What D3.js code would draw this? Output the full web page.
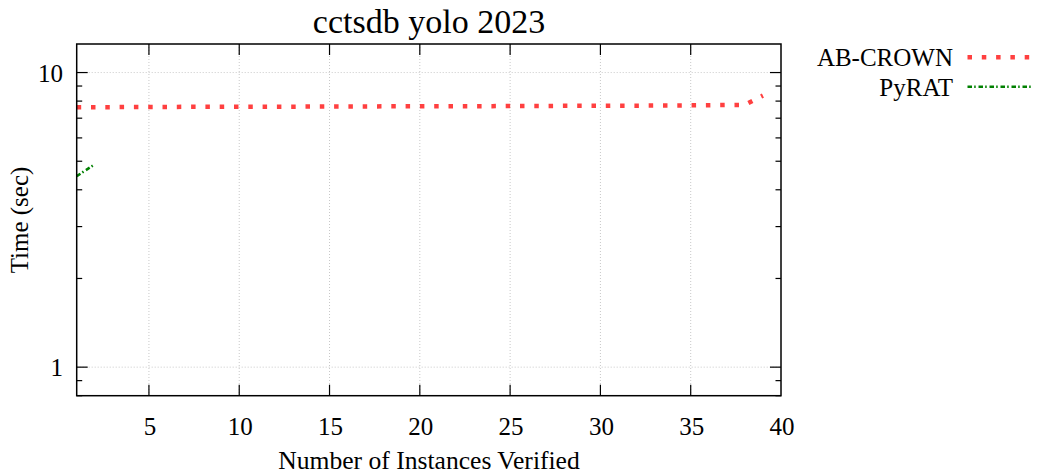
<!DOCTYPE html>
<html><head><meta charset="utf-8">
<script src="https://cdn.jsdelivr.net/npm/d3@7"></script>
<style>body{margin:0;background:#fff}svg{display:block}text{font-family:"Liberation Serif","Times New Roman",serif;fill:#000}</style>
</head><body>
<script>
const title = "cctsdb yolo 2023";
const xLabel = "Number of Instances Verified";
const yLabel = "Time (sec)";
const xTicks = [5,10,15,20,25,30,35,40];
const yTicks = [1,10];
const seriesNames = ["AB-CROWN","PyRAT"];
const abcrownX = d3.range(1,40);
const abcrownY = [7.62,7.63,7.63,7.64,7.64,7.64,7.65,7.65,7.65,7.66,7.66,7.66,7.66,7.67,7.67,7.67,7.67,7.68,7.68,7.68,7.68,7.69,7.69,7.69,7.70,7.70,7.70,7.71,7.71,7.71,7.72,7.72,7.73,7.73,7.74,7.75,7.76,7.77,8.35];
const pyratX = [1,2];
const pyratY = [4.45,4.88];

const W=1037,H=475;
const L=76.7,R=781,T=44,B=395.7;
const svg=d3.select("body").append("svg").attr("width",W).attr("height",H);
const x=d3.scaleLinear().domain([1,40]).range([L,R]);
const y=d3.scaleLog().domain([0.8,12.5]).range([B,T]);

// grid
const g=svg.append("g");
g.selectAll(".gx").data(xTicks.filter(v=>v<40)).enter().append("line")
 .attr("x1",d=>x(d)).attr("x2",d=>x(d)).attr("y1",T).attr("y2",B)
 .attr("stroke","#c8c8c8").attr("stroke-width",1).attr("stroke-dasharray","1,2");
g.selectAll(".gy").data(yTicks).enter().append("line")
 .attr("y1",d=>y(d)).attr("y2",d=>y(d)).attr("x1",L).attr("x2",R)
 .attr("stroke","#c8c8c8").attr("stroke-width",1).attr("stroke-dasharray","1,2");

// ticks
const minorY=[0.8,0.9,2,3,4,5,6,7,8,9];
const tk=svg.append("g").attr("stroke","#000").attr("stroke-width",1.2);
xTicks.filter(v=>v<40).forEach(v=>{
  tk.append("line").attr("x1",x(v)).attr("x2",x(v)).attr("y1",B).attr("y2",B-11);
  tk.append("line").attr("x1",x(v)).attr("x2",x(v)).attr("y1",T).attr("y2",T+11);
});
yTicks.forEach(v=>{
  tk.append("line").attr("x1",L).attr("x2",L+11).attr("y1",y(v)).attr("y2",y(v));
  tk.append("line").attr("x1",R).attr("x2",R-11).attr("y1",y(v)).attr("y2",y(v));
});
minorY.forEach(v=>{
  tk.append("line").attr("x1",L).attr("x2",L+5.5).attr("y1",y(v)).attr("y2",y(v));
  tk.append("line").attr("x1",R).attr("x2",R-5.5).attr("y1",y(v)).attr("y2",y(v));
});

// tick labels
svg.selectAll(".xl").data(xTicks).enter().append("text")
 .attr("x",d=>x(d)+1).attr("y",435).attr("text-anchor","middle").attr("font-size",25).text(d=>d);
svg.selectAll(".yl").data(yTicks).enter().append("text")
 .attr("x",63).attr("y",d=>y(d)+9).attr("text-anchor","end").attr("font-size",25).text(d=>d);

// clip
svg.append("clipPath").attr("id","clip").append("rect").attr("x",L).attr("y",T).attr("width",R-L).attr("height",B-T);
const line=d3.line().x(d=>x(d[0])).y(d=>y(d[1]));
const pg=svg.append("g").attr("clip-path","url(#clip)");
pg.append("path").datum(abcrownX.map((v,i)=>[v,abcrownY[i]])).attr("d",line)
 .attr("fill","none").attr("stroke","#ff4040").attr("stroke-width",4.5).attr("stroke-dasharray","4.5,9.8");
pg.append("path").datum(pyratX.map((v,i)=>[v,pyratY[i]])).attr("d",line)
 .attr("fill","none").attr("stroke","#008000").attr("stroke-width",2.5).attr("stroke-dasharray","4.5,2.2,1.5,2.8");

// border
svg.append("rect").attr("x",L).attr("y",T).attr("width",R-L).attr("height",B-T)
 .attr("fill","none").attr("stroke","#000").attr("stroke-width",1.5);

// title & labels
svg.append("text").attr("x",429).attr("y",33).attr("text-anchor","middle").attr("font-size",34).text(title);
svg.append("text").attr("x",429).attr("y",469).attr("text-anchor","middle").attr("font-size",25.6).text(xLabel);
svg.append("text").attr("transform","translate(28,220) rotate(-90)").attr("text-anchor","middle").attr("font-size",25).text(yLabel);

// legend
const lg=[{n:seriesNames[0],c:"#ff4040",w:4.5,da:"4.5,9.8",y:57.3},{n:seriesNames[1],c:"#008000",w:2.5,da:"4.5,2.2,1.5,2.8",y:86.7}];
lg.forEach(d=>{
  svg.append("text").attr("x",953).attr("y",d.y+9).attr("text-anchor","end").attr("font-size",25).text(d.n);
  svg.append("line").attr("x1",967.5).attr("x2",1031.5).attr("y1",d.y).attr("y2",d.y)
   .attr("stroke",d.c).attr("stroke-width",d.w).attr("stroke-dasharray",d.da);
});
</script>
</body></html>
